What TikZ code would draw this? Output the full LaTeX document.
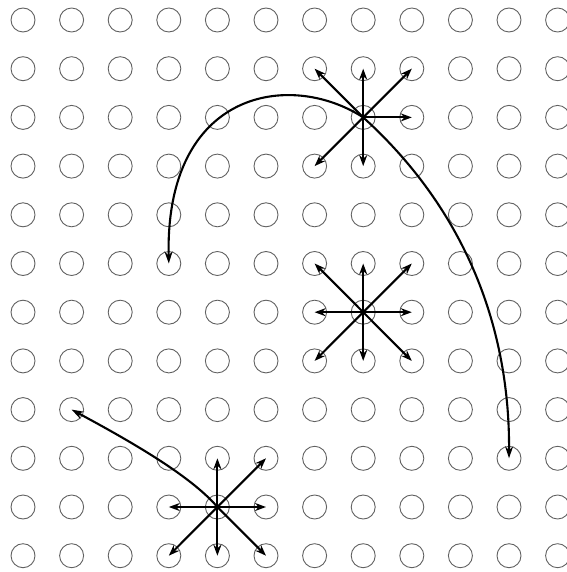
\documentclass[tikz,border=0pt]{standalone}
\usetikzlibrary{arrows.meta}
\begin{document}
\begin{tikzpicture}[x=1pt,y=-1pt,
  dot/.style={circle,draw=black!62,line width=0.9pt,minimum size=24pt,inner sep=0pt},
  arr/.style={line width=2.1pt,-{Stealth[length=11pt,width=8pt]}},
  curv/.style={line width=2.1pt,-{Stealth[length=12pt,width=8pt]}}]
\useasboundingbox (0,0) rectangle (566,572);
\foreach \i in {0,...,11}{\foreach \j in {0,...,11}{
  \node[dot] (c-\i-\j) at ({23+48.6*\i},{20+48.7*\j}) {};}}
% star 1
\foreach \t in {6-1,7-1,8-1,8-2,6-3,7-3}{\draw[arr] (c-7-2.center) -- (c-\t.center);}
% star 2
\foreach \t in {6-5,7-5,8-5,6-6,8-6,6-7,7-7,8-7}{\draw[arr] (c-7-6.center) -- (c-\t.center);}
% star 3
\foreach \t in {4-9,5-9,3-10,5-10,3-11,4-11,5-11}{\draw[arr] (c-4-10.center) -- (c-\t.center);}
% curves
\draw[curv] (c-7-2.center) .. controls (290,70) and (165,90) .. (c-3-5.center);
\draw[curv] (c-7-2.center) .. controls (460,205) and (510,320) .. (c-10-9.center);
\draw[curv] (c-4-10.center) .. controls (190,475) and (128,440) .. (c-1-8.center);
\end{tikzpicture}
\end{document}
